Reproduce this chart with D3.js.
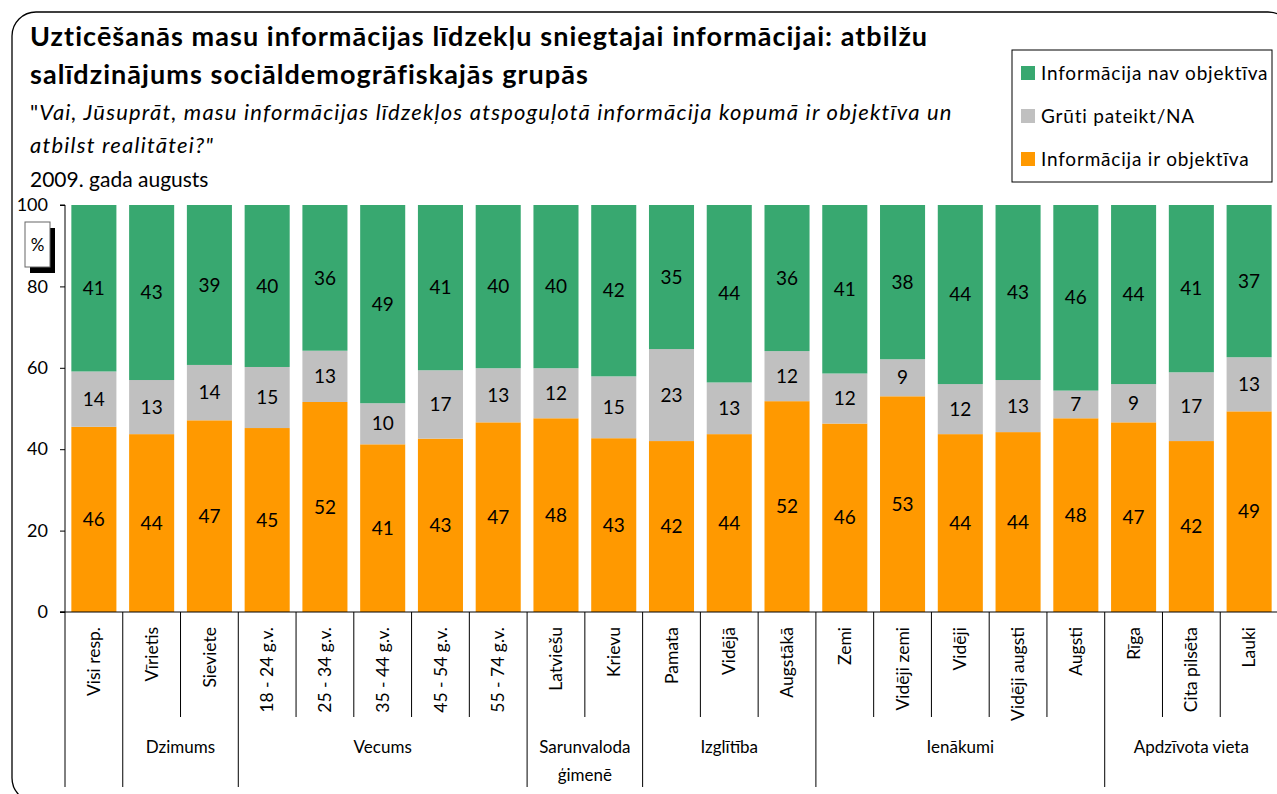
<!DOCTYPE html>
<html lang="lv">
<head>
    <meta charset="UTF-8">
    <title>Uzticēšanās masu informācijas līdzekļiem</title>
    <script src="https://d3js.org/d3.v7.min.js"></script>
    <style>
        body { margin: 0; background: #fff; }
        svg { display: block; font-family: Lato, "Open Sans", sans-serif; }
    </style>
</head>
<body>
    <div id="chart"></div>
    <script>
        // Categories (21 bars) and their group headings
        const categories = ["Visi resp.", "Vīrietis", "Sieviete", "18 - 24 g.v.", "25 - 34 g.v.",
            "35 - 44 g.v.", "45 - 54 g.v.", "55 - 74 g.v.", "Latviešu", "Krievu", "Pamata", "Vidējā",
            "Augstākā", "Zemi", "Vidēji zemi", "Vidēji", "Vidēji augsti", "Augsti", "Rīga",
            "Cita pilsēta", "Lauki"];
        const groupNames = ["", "Dzimums", "Vecums", "Sarunvaloda\nģimenē", "Izglītība", "Ienākumi", "Apdzīvota vieta"];
        const groupSizes = [1, 2, 5, 2, 3, 5, 3];

        // Series (percent), bottom to top
        const objective    = [45.5, 43.7, 47.1, 45.2, 51.6, 41.2, 42.6, 46.6, 47.6, 42.7, 42.0, 43.7, 51.8, 46.3, 53.0, 43.7, 44.2, 47.6, 46.6, 42.0, 49.3];
        const hardToSay    = [13.6, 13.3, 13.6, 15.0, 12.6, 10.1, 16.8, 13.3, 12.3, 15.2, 22.6, 12.7, 12.3, 12.3, 9.1, 12.3, 12.8, 6.8, 9.4, 16.9, 13.3];
        const notObjective = [40.9, 43.0, 39.3, 39.8, 35.8, 48.7, 40.6, 40.1, 40.1, 42.1, 35.4, 43.6, 35.9, 41.4, 37.9, 44.0, 43.0, 45.6, 44.0, 41.1, 37.4];

        const seriesNames = ["Informācija ir objektīva", "Grūti pateikt/NA", "Informācija nav objektīva"];
        const seriesColors = ["#ff9900", "#c0c0c0", "#38a870"];
        const yTicks = [0, 20, 40, 60, 80, 100];

        const W = 1277, H = 794;
        const plotLeft = 65, plotRight = 1278, plotTop = 205, plotBottom = 612;

        const svg = d3.select("#chart").append("svg")
            .attr("width", W)
            .attr("height", H);

        // Rounded chart frame
        svg.append("rect")
            .attr("x", 12).attr("y", 12)
            .attr("width", 1280).attr("height", 790)
            .attr("rx", 24)
            .attr("fill", "none")
            .attr("stroke", "#000")
            .attr("stroke-width", 1.3);

        // Titles
        const title = svg.append("text")
            .attr("font-size", "27px")
            .attr("font-weight", "bold")
            .attr("letter-spacing", "1.05px");
        title.append("tspan").attr("x", 30).attr("y", 46)
            .text("Uzticēšanās masu informācijas līdzekļu sniegtajai informācijai: atbilžu");
        title.append("tspan").attr("x", 30).attr("y", 84)
            .text("salīdzinājums sociāldemogrāfiskajās grupās");

        const sub = svg.append("text")
            .attr("font-size", "22px")
            .attr("letter-spacing", "1.2px");
        const l1 = sub.append("tspan").attr("x", 30).attr("y", 120);
        l1.append("tspan").text("\"");
        l1.append("tspan").attr("font-style", "italic")
            .text("Vai, Jūsuprāt, masu informācijas līdzekļos atspoguļotā informācija kopumā ir objektīva un");
        sub.append("tspan").attr("x", 30).attr("y", 153).attr("font-style", "italic")
            .text("atbilst realitātei?\"");

        svg.append("text")
            .attr("x", 30).attr("y", 187)
            .attr("font-size", "21px")
            .text("2009. gada augusts");

        // Scales
        const x = d3.scaleBand()
            .domain(categories)
            .range([plotLeft, plotRight])
            .paddingInner(0.22)
            .paddingOuter(0.11);

        const y = d3.scaleLinear()
            .domain([0, 100])
            .range([plotBottom, plotTop]);

        // Stack data
        const rows = categories.map((c, i) => ({
            cat: c, s0: objective[i], s1: hardToSay[i], s2: notObjective[i]
        }));
        const stacked = d3.stack().keys(["s0", "s1", "s2"])(rows);

        const layers = svg.append("g").selectAll("g")
            .data(stacked)
            .join("g")
            .attr("fill", (d, i) => seriesColors[i]);

        layers.selectAll("rect")
            .data(d => d)
            .join("rect")
            .attr("x", d => x(d.data.cat))
            .attr("y", d => y(d[1]))
            .attr("width", x.bandwidth())
            .attr("height", d => y(d[0]) - y(d[1]));

        layers.selectAll("text")
            .data(d => d)
            .join("text")
            .attr("x", d => x(d.data.cat) + x.bandwidth() / 2)
            .attr("y", d => (y(d[0]) + y(d[1])) / 2)
            .attr("dy", "0.35em")
            .attr("text-anchor", "middle")
            .attr("font-size", "19px")
            .attr("fill", "#000")
            .text(d => Math.round(d[1] - d[0]));

        // Y axis
        const yAxis = svg.append("g")
            .attr("transform", `translate(${plotLeft},0)`)
            .call(d3.axisLeft(y).tickValues(yTicks).tickSize(5).tickPadding(12));
        yAxis.select(".domain").attr("stroke", "#000").attr("d", `M-5,${plotTop}H0V${plotBottom}H-5`);
        yAxis.selectAll("text").attr("font-size", "18px").attr("fill", "#000").attr("font-family", "Lato, sans-serif");

        // "%" box with shadow
        svg.append("rect").attr("x", 30).attr("y", 228).attr("width", 25).attr("height", 45).attr("fill", "#000");
        svg.append("rect").attr("x", 25).attr("y", 222).attr("width", 25).attr("height", 45)
            .attr("fill", "#fff").attr("stroke", "#666");
        svg.append("text").attr("x", 37.5).attr("y", 245).attr("dy", "0.35em")
            .attr("text-anchor", "middle").attr("font-size", "17px").text("%");

        // X axis line
        svg.append("line")
            .attr("x1", plotLeft - 5).attr("x2", plotRight)
            .attr("y1", plotBottom).attr("y2", plotBottom)
            .attr("stroke", "#000");

        // Separator lines: long at group boundaries, short inside groups
        const step = x.step();
        const boundaries = [0];
        groupSizes.reduce((acc, n) => { boundaries.push(acc + n); return acc + n; }, 0);
        const sepIdx = d3.range(0, categories.length);
        svg.append("g").selectAll("line")
            .data(sepIdx)
            .join("line")
            .attr("x1", i => plotLeft + i * step)
            .attr("x2", i => plotLeft + i * step)
            .attr("y1", plotBottom)
            .attr("y2", i => boundaries.includes(i) ? 787 : 717)
            .attr("stroke", "#000");

        // Category labels (rotated)
        svg.append("g").selectAll("text")
            .data(categories)
            .join("text")
            .attr("transform", d => `translate(${x(d) + x.bandwidth() / 2},627) rotate(-90)`)
            .attr("dy", "0.35em")
            .attr("text-anchor", "end")
            .attr("font-size", "17.5px")
            .text(d => d);

        // Group labels
        const groupG = svg.append("g");
        groupNames.forEach((name, gi) => {
            if (!name) return;
            const start = boundaries[gi], end = boundaries[gi + 1];
            const cx = plotLeft + (start + end) / 2 * step;
            const lines = name.split("\n");
            const t = groupG.append("text")
                .attr("text-anchor", "middle")
                .attr("font-size", "17px");
            lines.forEach((ln, li) => {
                t.append("tspan").attr("x", cx).attr("y", 747 + li * 28).attr("dy", "0.35em").text(ln);
            });
        });

        // Legend
        const legend = svg.append("g");
        legend.append("rect")
            .attr("x", 1012).attr("y", 50).attr("width", 260).attr("height", 132)
            .attr("fill", "#fff").attr("stroke", "#000");
        const legendOrder = [2, 1, 0];
        legendOrder.forEach((si, k) => {
            const cy = 73 + k * 43;
            legend.append("rect")
                .attr("x", 1021).attr("y", cy - 7).attr("width", 14).attr("height", 14)
                .attr("fill", seriesColors[si]);
            legend.append("text")
                .attr("x", 1041).attr("y", cy).attr("dy", "0.35em")
                .attr("font-size", "19px")
                .attr("letter-spacing", "0.8px")
                .text(seriesNames[si]);
        });
    </script>
</body>
</html>
